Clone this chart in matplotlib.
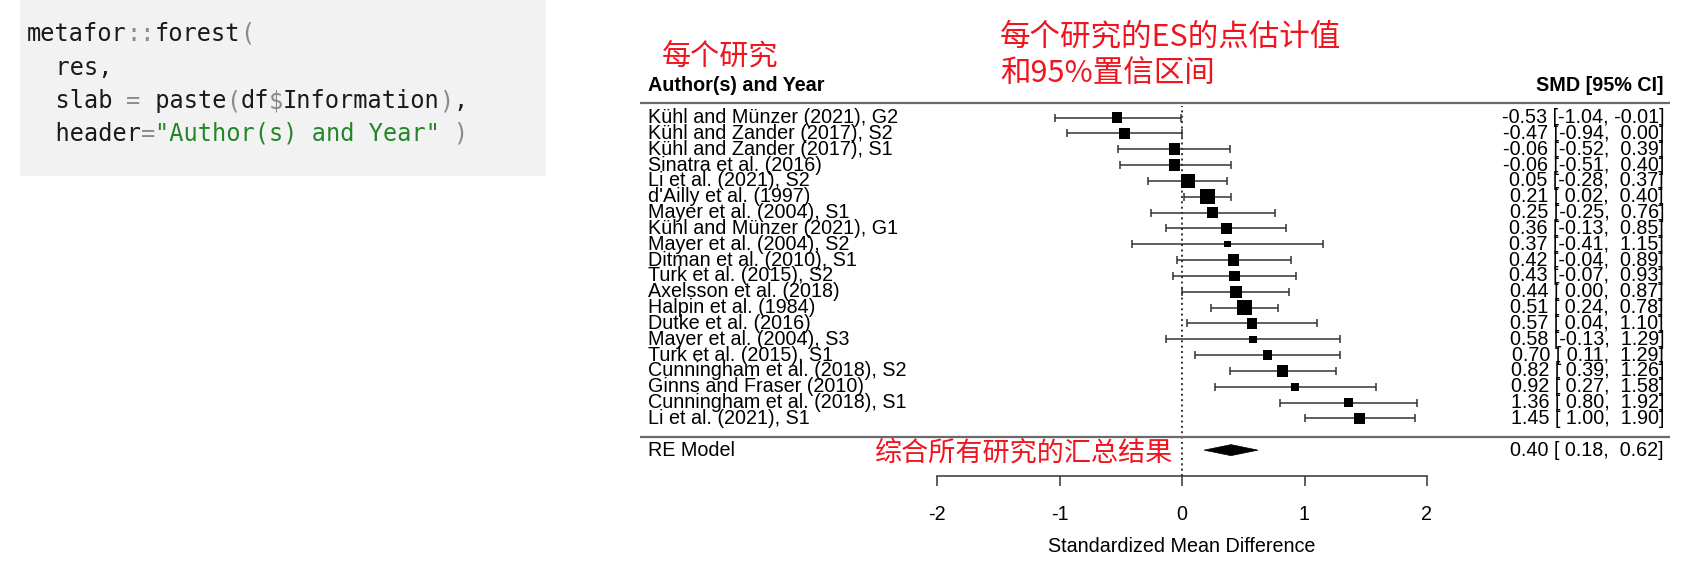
import numpy as np
import matplotlib
matplotlib.use('Agg')
import matplotlib.pyplot as plt
import matplotlib.transforms as mtransforms
from matplotlib.patches import Rectangle, Polygon

plt.rcParams['font.family'] = ['Liberation Sans', 'DejaVu Sans']

# study rows, top to bottom
labels = [
    'Kühl and Münzer (2021), G2', 'Kühl and Zander (2017), S2',
    'Kühl and Zander (2017), S1', 'Sinatra et al. (2016)',
    'Li et al. (2021), S2', "d'Ailly et al. (1997)",
    'Mayer et al. (2004), S1', 'Kühl and Münzer (2021), G1',
    'Mayer et al. (2004), S2', 'Ditman et al. (2010), S1',
    'Turk et al. (2015), S2', 'Axelsson et al. (2018)',
    'Halpin et al. (1984)', 'Dutke et al. (2016)',
    'Mayer et al. (2004), S3', 'Turk et al. (2015), S1',
    'Cunningham et al. (2018), S2', 'Ginns and Fraser (2010)',
    'Cunningham et al. (2018), S1', 'Li et al. (2021), S1',
]
smd = [-0.53, -0.47, -0.06, -0.06, 0.05, 0.21, 0.25, 0.36, 0.37, 0.42,
       0.43, 0.44, 0.51, 0.57, 0.58, 0.70, 0.82, 0.92, 1.36, 1.45]
ci_lb = [-1.04, -0.94, -0.52, -0.51, -0.28, 0.02, -0.25, -0.13, -0.41, -0.04,
         -0.07, 0.00, 0.24, 0.04, -0.13, 0.11, 0.39, 0.27, 0.80, 1.00]
ci_ub = [-0.01, 0.00, 0.39, 0.40, 0.37, 0.40, 0.76, 0.85, 1.15, 0.89,
         0.93, 0.87, 0.78, 1.10, 1.29, 1.29, 1.26, 1.58, 1.92, 1.90]
re_est, re_lb, re_ub = 0.40, 0.18, 0.62
xticks = [-2, -1, 0, 1, 2]

code_lines = [
    [('metafor', 'k'), ('::', 'g'), ('forest', 'k'), ('(', 'g')],
    [('  res,', 'k')],
    [('  slab ', 'k'), ('=', 'g'), (' paste', 'k'), ('(', 'g'), ('df', 'k'),
     ('$', 'g'), ('Information', 'k'), (')', 'g'), (',', 'k')],
    [('  header', 'k'), ('=', 'g'), ('"Author(s) and Year"', 's'), (' ', 'k'), (')', 'g')],
]
code_colors = {'k': '#1a1a1a', 'g': '#8a8a8a', 's': '#23862a'}

W, H = 1700, 564
fig = plt.figure(figsize=(W / 100, H / 100), dpi=100)


def fx(px):
    return px / W


def fy(py):
    return 1 - py / H


# code cell on the left
fig.add_artist(Rectangle((fx(20), fy(176)), fx(526), 176 / H, transform=fig.transFigure,
                         facecolor='#f2f2f2', edgecolor='none', zorder=0))
mono_size = 17
adv = 0.602 * mono_size * 100 / 72
for baseline, toks in zip([41, 75.5, 108.5, 141], code_lines):
    col = 0
    for tok, c in toks:
        fig.text(fx(27 + col * adv), fy(baseline), tok, family='DejaVu Sans Mono',
                 fontsize=mono_size, color=code_colors[c], va='baseline', ha='left')
        col += len(tok)

# forest plot axes: x=0 at pixel 1182, 122.5 px per unit
x0_px, unit_px = 1182, 122.5
left_px, right_px, top_px, bot_px = 640, 1670, 100, 476
row_px = 15.84


def row_y(py):
    return 20 - (py - 117.5) / row_px


ax = fig.add_axes([fx(left_px), fy(bot_px), (right_px - left_px) / W, (bot_px - top_px) / H])
ax.set_xlim((left_px - x0_px) / unit_px, (right_px - x0_px) / unit_px)
ax.set_ylim(row_y(bot_px), row_y(top_px))

est = np.array(smd)
lb = np.array(ci_lb)
ub = np.array(ci_ub)
k = len(est)
ys = np.arange(k, 0, -1)

# point sizes from random-effects weights (DerSimonian-Laird tau^2)
vi = ((ub - lb) / (2 * 1.96)) ** 2
wi = 1 / vi
ybar = np.sum(wi * est) / wi.sum()
Q = np.sum(wi * (est - ybar) ** 2)
tau2 = max(0.0, (Q - (k - 1)) / (wi.sum() - np.sum(wi ** 2) / wi.sum()))
w = 1 / (vi + tau2)
psize = 0.5 + (w - w.min()) / (w.max() - w.min())
side_pt = (9 * psize + 2) * 0.72

ax.errorbar(est, ys, xerr=[est - lb, ub - est], fmt='none', ecolor='#333333',
            elinewidth=1.1, capsize=2.7, capthick=1.1, zorder=2)
ax.scatter(est, ys, marker='s', s=side_pt ** 2, color='black', linewidths=0, zorder=3)

h = 5.5 / row_px
ax.add_patch(Polygon([(re_lb, -1), (re_est, -1 + h), (re_ub, -1), (re_est, -1 - h)],
                     closed=True, facecolor='black', edgecolor='black', lw=0.5, zorder=3))

ax.axhline(row_y(103), color='#6a6a6a', lw=1.6)
ax.axhline(row_y(436.5), color='#6a6a6a', lw=1.6)
ax.plot([0, 0], [row_y(bot_px), row_y(106)], color='black', lw=1.1,
        linestyle=(0, (1.3, 2.2)), zorder=1)

trans = mtransforms.blended_transform_factory(ax.transAxes, ax.transData)
lx = (648 - left_px) / (right_px - left_px)
rx = (1664 - left_px) / (right_px - left_px)
fs = 14.2
for y, lab, e, l, u in zip(ys, labels, est, lb, ub):
    ax.text(lx, y, lab, transform=trans, ha='left', va='center', fontsize=fs)
    ax.text(rx, y, f'{e:.2f} [{l:5.2f}, {u:5.2f}]', transform=trans,
            ha='right', va='center', fontsize=fs)
ax.text(lx, -1, 'RE Model', transform=trans, ha='left', va='center', fontsize=fs)
ax.text(rx, -1, f'{re_est:.2f} [{re_lb:5.2f}, {re_ub:5.2f}]', transform=trans,
        ha='right', va='center', fontsize=fs)
ax.text(lx, row_y(85.5), 'Author(s) and Year', transform=trans, ha='left', va='center',
        fontsize=fs, fontweight='bold', clip_on=False)
ax.text(rx, row_y(85.5), 'SMD [95% CI]', transform=trans, ha='right', va='center',
        fontsize=fs, fontweight='bold', clip_on=False)

for s in ['top', 'left', 'right']:
    ax.spines[s].set_visible(False)
ax.spines['bottom'].set_bounds(-2, 2)
ax.spines['bottom'].set_linewidth(1.1)
ax.spines['bottom'].set_color('#333333')
ax.set_yticks([])
ax.set_xticks(xticks)
ax.set_xticklabels([str(t) for t in xticks])
ax.tick_params(axis='x', direction='out', length=7.5, width=1.1, color='#333333',
               pad=13.5, labelsize=fs)
ax.patch.set_visible(False)

xtrans = mtransforms.blended_transform_factory(ax.transData, ax.transAxes)
ax.text(0, (bot_px - 546) / (bot_px - top_px), 'Standardized Mean Difference',
        transform=xtrans, ha='center', va='center', fontsize=fs, clip_on=False)

# red annotations
cjk = ['Noto Sans CJK SC', 'DejaVu Sans']
red = '#f0141e'
fig.text(fx(662), fy(57), '每个研究', family=cjk, fontsize=21, color=red, va='center')
fig.text(fx(1000), fy(36.5), '每个研究的ES的点估计值', family=cjk, fontsize=22, color=red, va='center')
fig.text(fx(1000), fy(73.5), '和95%置信区间', family=cjk, fontsize=22, color=red, va='center')
fig.text(fx(875), fy(453), '综合所有研究的汇总结果', family=cjk, fontsize=19.5, color=red, va='center')

fig.savefig('out.png', dpi=100, facecolor='white')
